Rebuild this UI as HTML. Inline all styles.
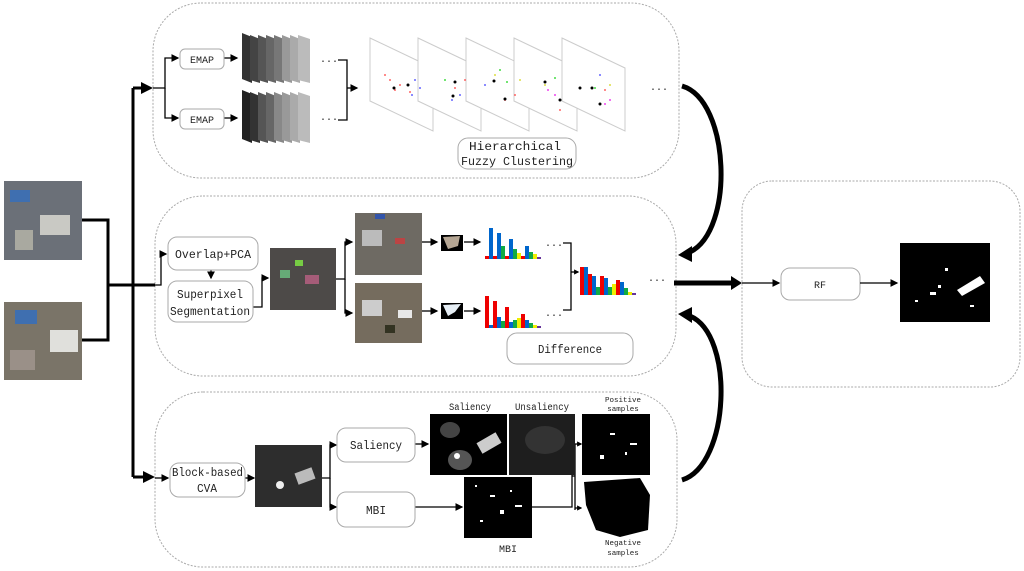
<!DOCTYPE html>
<html><head><meta charset="utf-8"><style>
html,body{margin:0;padding:0;background:#fff;}
svg{display:block;}
text{font-family:"Liberation Mono","DejaVu Sans Mono",monospace;fill:#222;}
</style></head><body>
<svg width="1024" height="571" viewBox="0 0 1024 571" xmlns="http://www.w3.org/2000/svg">
<defs>
<marker id="a" markerWidth="6" markerHeight="6" refX="5" refY="3" orient="auto"><path d="M0,0L6,3L0,6z" fill="#000"/></marker>
<marker id="b" markerWidth="4" markerHeight="4" refX="3" refY="2" orient="auto"><path d="M0,0L4,2L0,4z" fill="#000"/></marker>
</defs>
<g fill="none" stroke="#aaa" stroke-dasharray="2,1.5" stroke-width="1">
<rect x="153" y="3" width="526" height="175" rx="48"/>
<rect x="155" y="196" width="521" height="180" rx="48"/>
<rect x="155" y="392" width="522" height="175" rx="48"/>
<rect x="742" y="181" width="278" height="206" rx="30"/>
</g>
<rect x="4" y="181" width="78" height="79" fill="#6b7078"/>
<rect x="10" y="190" width="20" height="12" fill="#3f6fb0"/><rect x="40" y="215" width="30" height="20" fill="#c9c9c4"/><rect x="15" y="230" width="18" height="20" fill="#a9a9a0"/>
<rect x="4" y="302" width="78" height="78" fill="#7a7468"/>
<rect x="50" y="330" width="28" height="22" fill="#e0e0dc"/><rect x="15" y="310" width="22" height="14" fill="#3f6fb0"/><rect x="10" y="350" width="25" height="20" fill="#9a9088"/>
<g stroke="#000" stroke-width="3" fill="none">
<polyline points="82,220 108,220 108,340 82,340"/>
<line x1="108" y1="285" x2="133" y2="285"/>
<line x1="133" y1="88" x2="133" y2="477"/>
<line x1="133" y1="88" x2="150" y2="88" marker-end="url(#b)"/>
<line x1="133" y1="477" x2="152" y2="477" marker-end="url(#b)"/>
<line x1="133" y1="285" x2="155" y2="285"/>
</g>
<g stroke="#000" stroke-width="1.3" fill="none">
<polyline points="153,88 165,88 165,58 178,58" marker-end="url(#a)"/>
<polyline points="165,88 165,118 178,118" marker-end="url(#a)"/>
<line x1="224" y1="58" x2="237" y2="58" marker-end="url(#a)"/>
<line x1="224" y1="118" x2="237" y2="118" marker-end="url(#a)"/>
<polyline points="338,60 347,60 347,120 338,120"/>
<line x1="347" y1="88" x2="357" y2="88" marker-end="url(#a)"/>
</g>
<g stroke="#aaa" fill="#fff"><rect x="180" y="49" width="44" height="20" rx="5"/><rect x="180" y="109" width="44" height="20" rx="5"/></g>
<text x="202" y="63" font-size="10" text-anchor="middle" font-family="Liberation Serif">EMAP</text>
<text x="202" y="123" font-size="10" text-anchor="middle" font-family="Liberation Serif">EMAP</text>
<g>
<polygon points="242,33 252,37 252,83 242,79" fill="#333"/><polygon points="250,35 260,39 260,83 250,80" fill="#444"/><polygon points="258,35 268,39 268,83 258,80" fill="#555"/><polygon points="266,35 276,39 276,83 266,80" fill="#666"/><polygon points="274,35 284,39 284,83 274,80" fill="#777"/><polygon points="282,35 292,39 292,83 282,80" fill="#999"/><polygon points="290,35 300,39 300,83 290,80" fill="#aaa"/><polygon points="298,35 310,39 310,83 298,80" fill="#bbb"/>
<g transform="translate(0,57)">
<polygon points="242,33 252,37 252,86 242,82" fill="#222"/><polygon points="250,35 260,39 260,86 250,83" fill="#333"/><polygon points="258,35 268,39 268,86 258,83" fill="#555"/><polygon points="266,35 276,39 276,86 266,83" fill="#666"/><polygon points="274,35 284,39 284,86 274,83" fill="#888"/><polygon points="282,35 292,39 292,86 282,83" fill="#999"/><polygon points="290,35 300,39 300,86 290,83" fill="#aaa"/><polygon points="298,35 310,39 310,86 298,83" fill="#bbb"/>
</g>
</g>
<text x="320" y="64" font-size="10">···</text><text x="320" y="122" font-size="10">···</text>
<g stroke="#ccc" fill="#fff" stroke-width="1">
<polygon points="370,38 433,68 433,131 370,101"/>
<polygon points="418,38 481,68 481,131 418,101"/>
<polygon points="466,38 529,68 529,131 466,101"/>
<polygon points="514,38 577,68 577,131 514,101"/>
<polygon points="562,38 625,68 625,131 562,101"/>
</g>
<g fill="#f66"><circle cx="390" cy="80" r="1"/><circle cx="400" cy="85" r="1"/><circle cx="395" cy="90" r="1"/><circle cx="410" cy="92" r="1"/><circle cx="385" cy="75" r="1"/><circle cx="455" cy="88" r="1"/><circle cx="465" cy="80" r="1"/><circle cx="505" cy="100" r="1"/><circle cx="515" cy="95" r="1"/><circle cx="560" cy="110" r="1"/><circle cx="605" cy="90" r="1"/></g>
<g fill="#66f"><circle cx="415" cy="80" r="1"/><circle cx="420" cy="88" r="1"/><circle cx="412" cy="95" r="1"/><circle cx="452" cy="100" r="1"/><circle cx="460" cy="95" r="1"/><circle cx="485" cy="85" r="1"/><circle cx="600" cy="75" r="1"/></g>
<g fill="#4d4"><circle cx="445" cy="80" r="1"/><circle cx="500" cy="70" r="1"/><circle cx="507" cy="82" r="1"/><circle cx="555" cy="78" r="1"/><circle cx="595" cy="88" r="1"/></g>
<g fill="#dd4"><circle cx="495" cy="75" r="1"/><circle cx="520" cy="80" r="1"/><circle cx="545" cy="85" r="1"/><circle cx="610" cy="85" r="1"/></g>
<g fill="#e4e"><circle cx="548" cy="90" r="1"/><circle cx="555" cy="95" r="1"/><circle cx="610" cy="100" r="1"/><circle cx="605" cy="104" r="1"/></g>
<g fill="#000"><circle cx="394" cy="88" r="1.5"/><circle cx="408" cy="85" r="1.5"/><circle cx="455" cy="82" r="1.5"/><circle cx="453" cy="96" r="1.5"/><circle cx="494" cy="81" r="1.5"/><circle cx="505" cy="99" r="1.5"/><circle cx="545" cy="82" r="1.5"/><circle cx="560" cy="100" r="1.5"/><circle cx="580" cy="88" r="1.5"/><circle cx="592" cy="88" r="1.5"/><circle cx="600" cy="104" r="1.5"/></g>
<text x="650" y="92" font-size="10">···</text>
<rect x="458" y="138" width="118" height="31" rx="10" fill="#fff" stroke="#aaa"/>
<text x="469" y="150" font-size="12" textLength="92" lengthAdjust="spacingAndGlyphs">Hierarchical</text>
<text x="461" y="165" font-size="12" textLength="112" lengthAdjust="spacingAndGlyphs">Fuzzy Clustering</text>
<g stroke="#000" stroke-width="1.3" fill="none">
<polyline points="155,285 161,285 161,254 166,254" marker-end="url(#a)"/>
<line x1="211" y1="270" x2="211" y2="278" marker-end="url(#a)"/>
<polyline points="253,307 262,307 262,278 268,278" marker-end="url(#a)"/>
<polyline points="336,279 345,279 345,242 352,242" marker-end="url(#a)"/>
<polyline points="345,279 345,313 352,313" marker-end="url(#a)"/>
<line x1="422" y1="242" x2="437" y2="242" marker-end="url(#a)"/>
<line x1="422" y1="311" x2="437" y2="311" marker-end="url(#a)"/>
<line x1="464" y1="242" x2="480" y2="242" marker-end="url(#a)"/>
<line x1="464" y1="311" x2="480" y2="311" marker-end="url(#a)"/>
<polyline points="563,243 571,243 571,310 563,310"/>
<line x1="571" y1="272" x2="578" y2="272" marker-end="url(#b)"/>
</g>
<rect x="168" y="237" width="90" height="33" rx="9" fill="#fff" stroke="#aaa"/>
<text x="175" y="258" font-size="12" textLength="76" lengthAdjust="spacingAndGlyphs">Overlap+PCA</text>
<rect x="168" y="281" width="85" height="41" rx="9" fill="#fff" stroke="#aaa"/>
<text x="177" y="298" font-size="12" textLength="66" lengthAdjust="spacingAndGlyphs">Superpixel</text>
<text x="170" y="315" font-size="12" textLength="80" lengthAdjust="spacingAndGlyphs">Segmentation</text>
<rect x="270" y="248" width="66" height="62" fill="#4d4a48"/>
<rect x="295" y="260" width="8" height="6" fill="#7c4"/><rect x="305" y="275" width="14" height="9" fill="#a55c78"/><rect x="280" y="270" width="10" height="8" fill="#6a7"/>
<rect x="355" y="213" width="67" height="62" fill="#6e6a63"/>
<rect x="362" y="230" width="20" height="16" fill="#bbb"/><rect x="395" y="238" width="10" height="6" fill="#b44"/><rect x="375" y="214" width="10" height="5" fill="#35a"/>
<rect x="355" y="283" width="67" height="60" fill="#756c5e"/>
<rect x="362" y="300" width="20" height="16" fill="#ccc"/><rect x="398" y="310" width="14" height="8" fill="#e8e8e8"/><rect x="385" y="325" width="10" height="8" fill="#332"/>
<rect x="441" y="235" width="22" height="16" fill="#000"/><path d="M443,237 L460,236 L458,246 L448,249z" fill="#b5a694"/>
<rect x="441" y="303" width="22" height="16" fill="#000"/><path d="M443,305 L461,304 L455,312 L448,316z" fill="#e6eef5"/>
<g>
<rect x="485" y="256" width="4" height="3" fill="#e00"/><rect x="489" y="228" width="4" height="31" fill="#06c"/><rect x="493" y="256" width="4" height="3" fill="#e00"/><rect x="497" y="233" width="4" height="26" fill="#06c"/><rect x="501" y="246" width="4" height="13" fill="#1a4"/><rect x="505" y="256" width="4" height="3" fill="#e00"/><rect x="509" y="239" width="4" height="20" fill="#06c"/><rect x="513" y="249" width="4" height="10" fill="#1a4"/><rect x="517" y="253" width="4" height="6" fill="#ee0"/><rect x="521" y="256" width="4" height="3" fill="#e00"/><rect x="525" y="246" width="4" height="13" fill="#06c"/><rect x="529" y="252" width="4" height="7" fill="#1a4"/><rect x="533" y="254" width="4" height="5" fill="#ee0"/><rect x="537" y="257" width="4" height="2" fill="#639"/>
</g>
<g>
<rect x="485" y="296" width="4" height="32" fill="#e00"/><rect x="489" y="325" width="4" height="3" fill="#06c"/><rect x="493" y="301" width="4" height="27" fill="#e00"/><rect x="497" y="317" width="4" height="11" fill="#06c"/><rect x="501" y="321" width="4" height="7" fill="#1a4"/><rect x="505" y="307" width="4" height="21" fill="#e00"/><rect x="509" y="322" width="4" height="6" fill="#06c"/><rect x="513" y="320" width="4" height="8" fill="#1a4"/><rect x="517" y="318" width="4" height="10" fill="#ee0"/><rect x="521" y="314" width="4" height="14" fill="#e00"/><rect x="525" y="320" width="4" height="8" fill="#06c"/><rect x="529" y="323" width="4" height="5" fill="#1a4"/><rect x="533" y="325" width="4" height="3" fill="#ee0"/><rect x="537" y="326" width="4" height="2" fill="#639"/>
</g>
<g>
<rect x="580" y="267" width="4" height="28" fill="#e00"/><rect x="584" y="267" width="4" height="28" fill="#06c"/><rect x="588" y="274" width="4" height="21" fill="#e00"/><rect x="592" y="276" width="4" height="19" fill="#06c"/><rect x="596" y="287" width="4" height="8" fill="#1a4"/><rect x="600" y="276" width="4" height="19" fill="#e00"/><rect x="604" y="278" width="4" height="17" fill="#06c"/><rect x="608" y="287" width="4" height="8" fill="#1a4"/><rect x="612" y="284" width="4" height="11" fill="#ee0"/><rect x="616" y="280" width="4" height="15" fill="#e00"/><rect x="620" y="282" width="4" height="13" fill="#06c"/><rect x="624" y="288" width="4" height="7" fill="#1a4"/><rect x="628" y="292" width="4" height="3" fill="#ee0"/><rect x="632" y="293" width="4" height="2" fill="#639"/>
</g>
<text x="545" y="248" font-size="10">···</text><text x="545" y="318" font-size="10">···</text><text x="648" y="283" font-size="10">···</text>
<rect x="507" y="333" width="126" height="31" rx="10" fill="#fff" stroke="#aaa"/>
<text x="570" y="353" font-size="12" text-anchor="middle" textLength="64" lengthAdjust="spacingAndGlyphs">Difference</text>
<g stroke="#000" stroke-width="1.3" fill="none">
<line x1="155" y1="478" x2="168" y2="478" marker-end="url(#a)"/>
<line x1="245" y1="478" x2="254" y2="478" marker-end="url(#a)"/>
<polyline points="322,478 330,478 330,445 336,445" marker-end="url(#a)"/>
<polyline points="330,478 330,507 336,507" marker-end="url(#a)"/>
<line x1="415" y1="444" x2="428" y2="444" marker-end="url(#a)"/>
<line x1="415" y1="507" x2="462" y2="507" marker-end="url(#a)"/>
<polyline points="565,444 572,444 572,507 532,507"/>
<line x1="572" y1="476" x2="575" y2="476"/>
<polyline points="575,444 575,510"/>
<line x1="575" y1="444" x2="581" y2="444" marker-end="url(#b)"/>
<line x1="575" y1="508" x2="581" y2="508" marker-end="url(#b)"/>
</g>
<rect x="170" y="463" width="75" height="34" rx="9" fill="#fff" stroke="#aaa"/>
<text x="172" y="476" font-size="12" textLength="71" lengthAdjust="spacingAndGlyphs">Block-based</text>
<text x="207" y="492" font-size="12" text-anchor="middle" textLength="20" lengthAdjust="spacingAndGlyphs">CVA</text>
<rect x="255" y="445" width="67" height="62" fill="#2d2d2d"/>
<rect x="296" y="470" width="18" height="12" fill="#bbb" transform="rotate(-20 305 476)"/><circle cx="280" cy="485" r="4" fill="#eee"/>
<rect x="337" y="428" width="78" height="34" rx="9" fill="#fff" stroke="#aaa"/>
<text x="376" y="449" font-size="12" text-anchor="middle" textLength="52" lengthAdjust="spacingAndGlyphs">Saliency</text>
<rect x="337" y="492" width="78" height="35" rx="9" fill="#fff" stroke="#aaa"/>
<text x="376" y="514" font-size="12" text-anchor="middle" textLength="20" lengthAdjust="spacingAndGlyphs">MBI</text>
<text x="470" y="410" font-size="10" text-anchor="middle" textLength="42" lengthAdjust="spacingAndGlyphs">Saliency</text>
<text x="542" y="410" font-size="10" text-anchor="middle" textLength="54" lengthAdjust="spacingAndGlyphs">Unsaliency</text>
<rect x="430" y="414" width="77" height="61" fill="#000"/>
<ellipse cx="450" cy="430" rx="10" ry="8" fill="#444"/><ellipse cx="460" cy="460" rx="12" ry="10" fill="#555"/><rect x="478" y="437" width="22" height="12" fill="#ccc" transform="rotate(-30 489 443)"/><circle cx="457" cy="456" r="3" fill="#fff"/>
<rect x="509" y="414" width="66" height="61" fill="#1e1e1e"/>
<ellipse cx="545" cy="440" rx="20" ry="14" fill="#333"/>
<rect x="464" y="477" width="68" height="61" fill="#000"/>
<g fill="#fff"><rect x="475" y="485" width="2" height="2"/><rect x="490" y="495" width="5" height="2"/><rect x="500" y="510" width="4" height="4"/><rect x="515" y="505" width="7" height="2"/><rect x="480" y="520" width="3" height="2"/><rect x="510" y="490" width="2" height="2"/></g>
<text x="508" y="552" font-size="10" text-anchor="middle">MBI</text>
<text x="623" y="402" font-size="7.5" text-anchor="middle">Positive</text>
<text x="623" y="411" font-size="7.5" text-anchor="middle">samples</text>
<rect x="582" y="414" width="68" height="61" fill="#000"/>
<g fill="#fff"><rect x="610" y="433" width="5" height="2"/><rect x="630" y="443" width="7" height="2"/><rect x="600" y="455" width="4" height="4"/><rect x="625" y="452" width="2" height="3"/></g>
<rect x="582" y="477" width="68" height="61" fill="#fff"/>
<path d="M584,482 L640,478 L650,495 L648,530 L620,537 L596,530 L586,505z" fill="#000"/>
<text x="623" y="545" font-size="7.5" text-anchor="middle">Negative</text>
<text x="623" y="555" font-size="7.5" text-anchor="middle">samples</text>
<g stroke="#000" fill="none" stroke-width="5">
<line x1="674" y1="283" x2="735" y2="283"/>
<path d="M682,86 C730,100 735,230 690,252"/>
<path d="M682,480 C730,465 735,335 690,316"/>
</g>
<path d="M731,276 L742,283 L731,290z" fill="#000"/>
<path d="M678,255 L692,246 L692,262z" fill="#000"/>
<path d="M678,314 L692,307 L692,323z" fill="#000"/>
<line x1="742" y1="283" x2="779" y2="283" stroke="#000" stroke-width="1.3" marker-end="url(#a)"/>
<rect x="781" y="268" width="79" height="32" rx="9" fill="#fff" stroke="#aaa"/>
<text x="820" y="288" font-size="10" text-anchor="middle" font-family="Liberation Serif">RF</text>
<line x1="860" y1="283" x2="897" y2="283" stroke="#000" stroke-width="1.3" marker-end="url(#a)"/>
<rect x="900" y="243" width="90" height="79" fill="#000"/>
<path d="M957,290 L980,276 L985,283 L962,296z" fill="#fff"/>
<g fill="#fff"><rect x="945" y="268" width="3" height="3"/><rect x="930" y="292" width="6" height="3"/><rect x="938" y="285" width="3" height="3"/><rect x="915" y="300" width="3" height="2"/><rect x="970" y="305" width="4" height="2"/></g>
</svg>
</body></html>
